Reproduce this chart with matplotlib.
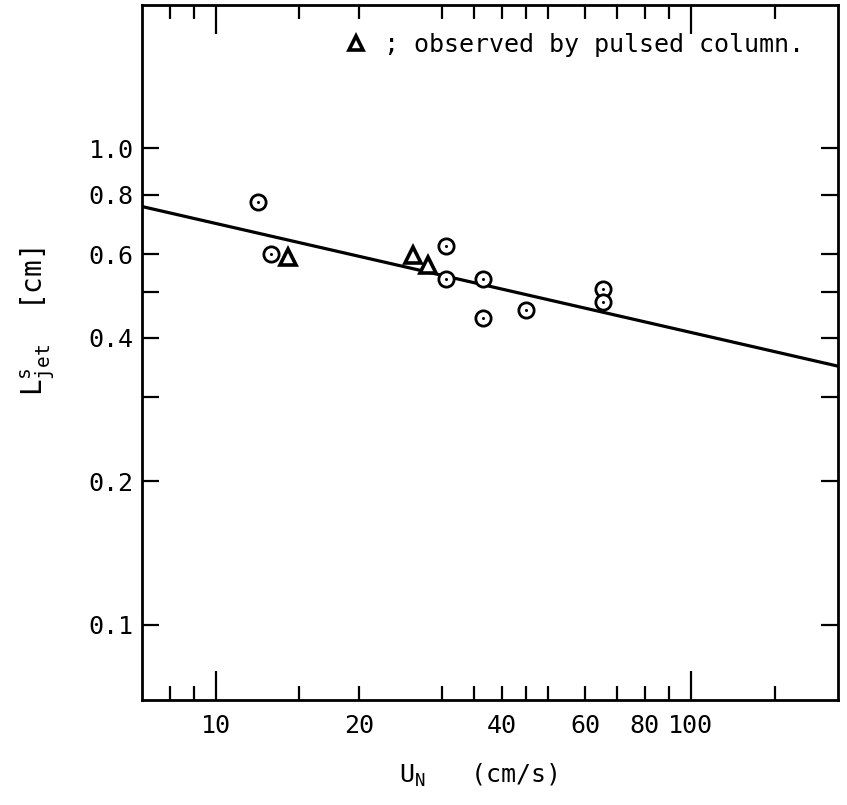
import numpy as np
import matplotlib
matplotlib.use('Agg')
import matplotlib.pyplot as plt
from matplotlib.ticker import NullLocator

plt.rcParams['font.family'] = ['DejaVu Sans Mono', 'DejaVu Sans']
plt.rcParams['mathtext.fontset'] = 'custom'
plt.rcParams['mathtext.rm'] = 'DejaVu Sans Mono'

# circles: measured points
circ_u = [12.3, 13.1, 30.6, 30.5, 36.5, 36.5, 44.9, 65.2, 65.2]
circ_l = [0.77, 0.60, 0.624, 0.532, 0.531, 0.440, 0.457, 0.507, 0.476]

# triangles: observed by pulsed column
tri_u = [14.2, 26.0, 28.0]
tri_l = [0.592, 0.598, 0.568]

# correlation line (end points)
fit_u = [7.0, 204.0]
fit_l = [0.755, 0.349]

x_major = [10, 100]
x_minor = [8, 9, 15, 20, 30, 35, 40, 45, 50, 60, 70, 80, 90, 150]
x_minor_labels = ['', '', '', '20', '', '', '40', '', '', '60', '', '80', '', '']
y_ticks = [0.1, 0.2, 0.3, 0.4, 0.5, 0.6, 0.8, 1.0]
y_labels = ['0.1', '0.2', '', '0.4', '', '0.6', '0.8', '1.0']

W, H = 847, 805
fig = plt.figure(figsize=(W / 100, H / 100), dpi=100)
ax = fig.add_axes([142 / W, 105 / H, 696 / W, 695 / H])
ax.set_xscale('log')
ax.set_yscale('log')
ax.set_xlim(7, 204)
ax.set_ylim(0.0695, 2.0)

ax.plot(fit_u, fit_l, color='black', lw=2.3, zorder=2)

ax.plot(circ_u, circ_l, linestyle='none', marker='o', ms=11, mfc='white',
        mec='black', mew=2.0, zorder=3)
ax.plot(circ_u, circ_l, linestyle='none', marker='o', ms=2.2, mfc='black',
        mec='black', mew=0, zorder=4)
ax.plot(tri_u, tri_l, linestyle='none', marker='^', ms=11, mfc='white',
        mec='black', mew=2.6, zorder=3)

# legend note
ax.plot([0.307], [0.945], transform=ax.transAxes, linestyle='none', marker='^',
        ms=10, mfc='white', mec='black', mew=2.6, clip_on=False)
ax.text(0.347, 0.943, '; observed by pulsed column.', transform=ax.transAxes,
        ha='left', va='center', fontsize=18)

ax.set_xticks(x_major, labels=['10', '100'])
ax.set_xticks(x_minor, labels=x_minor_labels, minor=True)
ax.set_yticks(y_ticks, labels=y_labels)
ax.yaxis.set_minor_locator(NullLocator())

ax.tick_params(axis='both', which='both', direction='in', top=True, right=True,
               width=1.6, labelsize=18, color='black')
ax.tick_params(axis='x', which='major', length=21, pad=10)
ax.tick_params(axis='x', which='minor', length=10, pad=10)
ax.tick_params(axis='y', which='major', length=12, pad=6)

for s in ax.spines.values():
    s.set_linewidth(2.0)

fig.text(478 / W, 1 - 775 / H, r'U$_\mathrm{N}$   (cm/s)', ha='center',
         va='center', fontsize=18)
fig.text(38 / W, 1 - 322 / H,
         r'$\mathrm{L}_{\mathrm{jet}}^{\mathrm{s}}$  [cm]', rotation=90,
         ha='center', va='center', fontsize=20)

fig.savefig('out.png', dpi=100)
